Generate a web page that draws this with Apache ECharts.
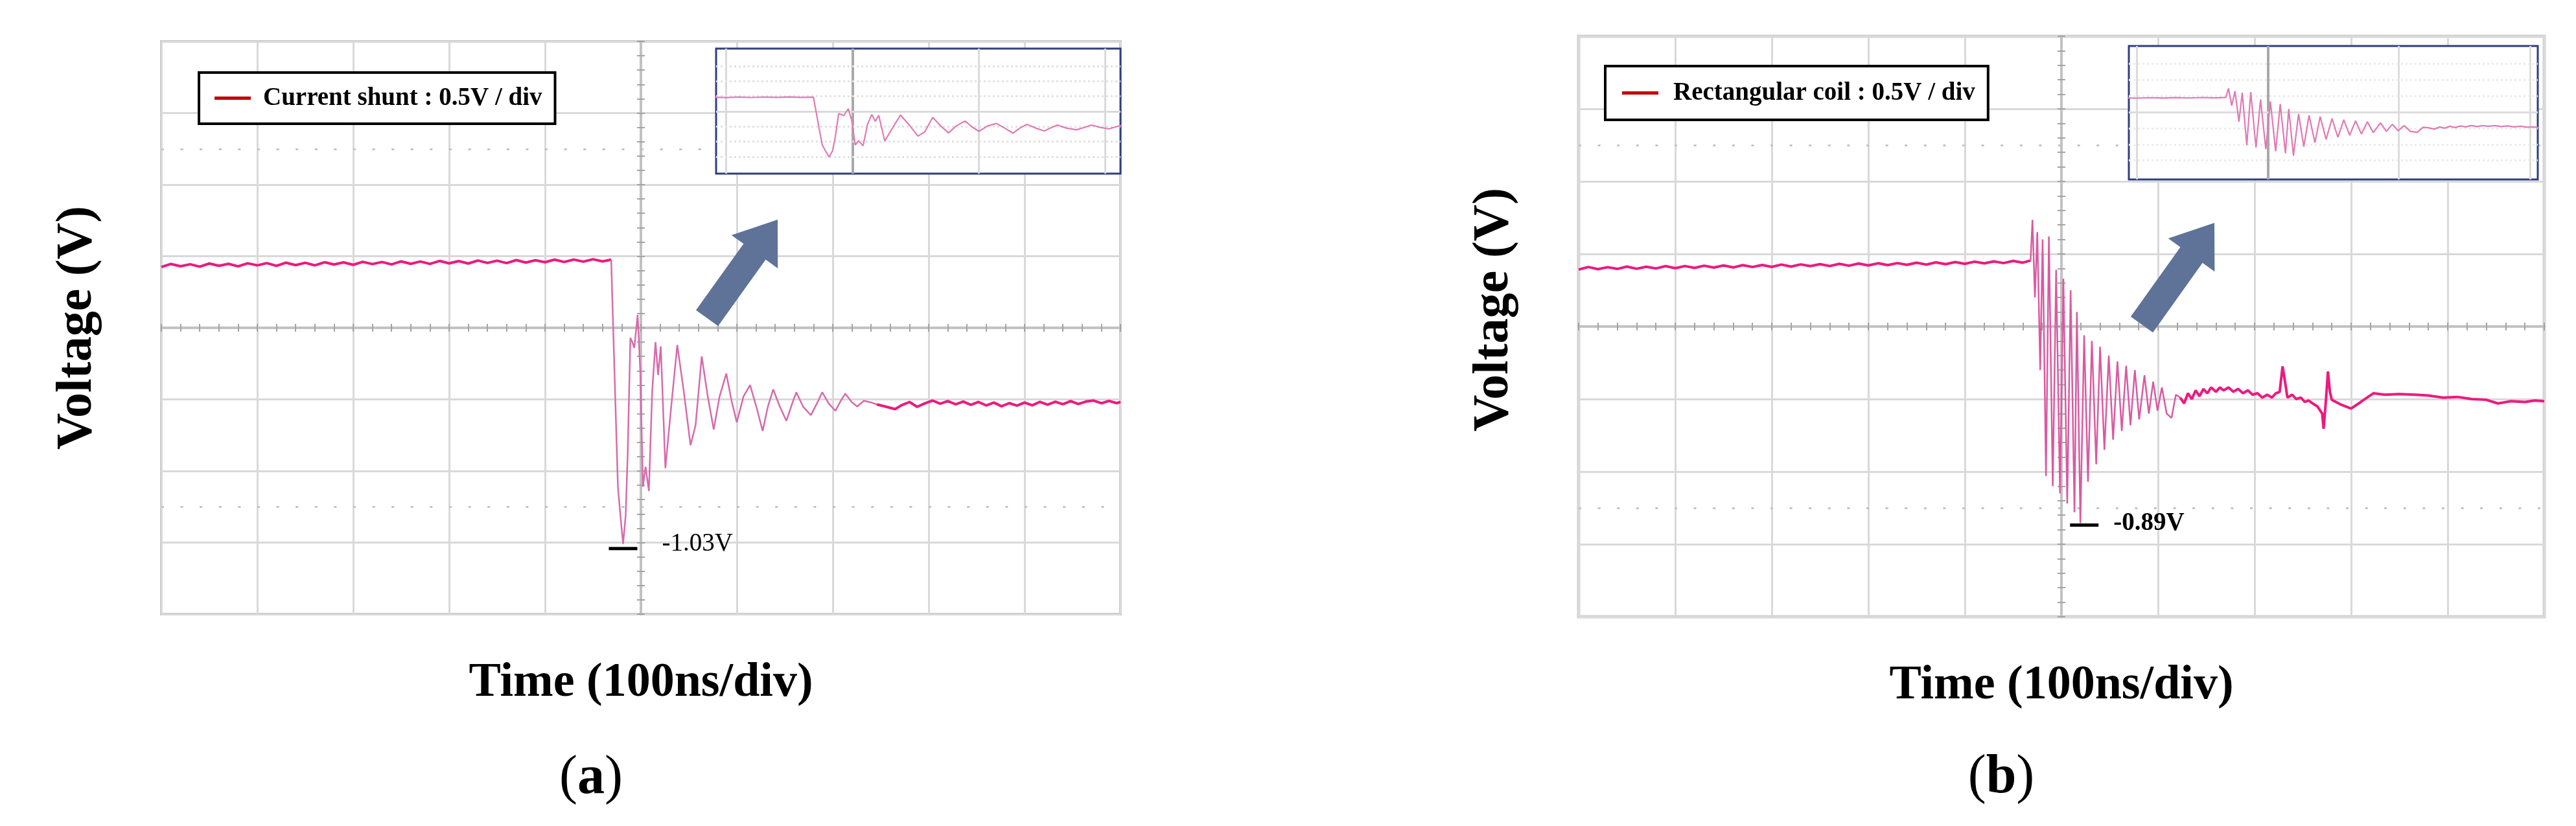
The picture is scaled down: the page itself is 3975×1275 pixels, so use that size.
<!DOCTYPE html>
<html><head><meta charset="utf-8">
<script src="https://cdn.jsdelivr.net/npm/echarts@6/dist/echarts.min.js"></script>
<style>html,body{margin:0;padding:0;background:#fff}#c{width:3975px;height:1275px}</style>
</head><body><div id="c"></div>
<script>
// ---------------- DATA (time in ns, voltage in V; scope at 0.5 V/div, 100 ns/div) ----------------
const seriesNames = ['Current shunt : 0.5V / div', 'Rectangular coil : 0.5V / div'];
const peakLabels = ['-1.03V', '-0.89V'];
const xTitle = 'Time (100ns/div)';
const yTitle = 'Voltage (V)';
const panelTags = ['a', 'b'];

const shuntPre = [[-500,0.425],[-490,0.446],[-480,0.430],[-470,0.444],[-460,0.427],[-450,0.449],[-440,0.433],[-430,0.447],[-420,0.429],[-410,0.451],[-400,0.436],[-390,0.452],[-380,0.433],[-370,0.455],[-360,0.438],[-350,0.454],[-340,0.436],[-330,0.458],[-320,0.442],[-310,0.457],[-300,0.440],[-290,0.461],[-280,0.445],[-270,0.460],[-260,0.443],[-250,0.464],[-240,0.447],[-230,0.463],[-220,0.446],[-210,0.467],[-200,0.450],[-190,0.466],[-180,0.449],[-170,0.470],[-160,0.453],[-150,0.469],[-140,0.452],[-130,0.473],[-120,0.456],[-110,0.472],[-100,0.458],[-90,0.476],[-80,0.460],[-70,0.477],[-60,0.462],[-50,0.479],[-40,0.464],[-31,0.476]];
const shuntRing = [[-31,0.476],[-27.6,-0.30],[-24,-1.11],[-21.4,-1.31],[-18.6,-1.51],[-15.9,-1.31],[-13.8,-0.88],[-11,-0.07],[-9,-0.10],[-6.9,-0.14],[-3.4,0.09],[-0.7,-0.30],[2.1,-1.11],[4.8,-0.97],[8.3,-1.14],[11.7,-0.45],[15.2,-0.10],[17.9,-0.33],[20.7,-0.13],[25.5,-0.98],[31,-0.59],[37.9,-0.12],[44.8,-0.45],[51.7,-0.82],[57,-0.68],[63.4,-0.20],[69.7,-0.48],[75.9,-0.71],[82,-0.48],[89,-0.32],[94.5,-0.51],[100,-0.66],[106.9,-0.48],[113.8,-0.40],[120.7,-0.56],[126.9,-0.72],[132.4,-0.55],[137.9,-0.43],[144.8,-0.55],[151.7,-0.65],[156.6,-0.55],[162,-0.45],[169,-0.55],[177.2,-0.61],[184.1,-0.52],[189,-0.45],[195.9,-0.53],[202.8,-0.58],[208.3,-0.51],[213.1,-0.46],[220,-0.52],[225.5,-0.55],[232.4,-0.51],[239.3,-0.52],[246,-0.535]];
const shuntTail = [[246,-0.535],[256,-0.552],[265,-0.568],[272,-0.540],[280,-0.518],[288,-0.552],[296,-0.528],[304,-0.508],[312,-0.530],[320,-0.512],[328,-0.534],[336,-0.515],[344,-0.538],[352,-0.518],[360,-0.542],[368,-0.522],[376,-0.548],[384,-0.526],[392,-0.544],[400,-0.522],[408,-0.541],[416,-0.517],[424,-0.537],[432,-0.516],[440,-0.533],[448,-0.512],[456,-0.532],[464,-0.515],[472,-0.508],[480,-0.527],[488,-0.511],[496,-0.526],[500,-0.518]];

const coilPre = [[-500,0.392],[-490,0.410],[-480,0.395],[-470,0.409],[-460,0.397],[-450,0.413],[-440,0.398],[-430,0.412],[-420,0.400],[-410,0.416],[-400,0.402],[-390,0.417],[-380,0.404],[-370,0.419],[-360,0.406],[-350,0.421],[-340,0.407],[-330,0.423],[-320,0.410],[-310,0.424],[-300,0.411],[-290,0.427],[-280,0.413],[-270,0.428],[-260,0.416],[-250,0.430],[-240,0.417],[-230,0.432],[-220,0.419],[-210,0.434],[-200,0.421],[-190,0.436],[-180,0.423],[-170,0.437],[-160,0.425],[-150,0.440],[-140,0.427],[-130,0.442],[-120,0.430],[-110,0.444],[-100,0.432],[-90,0.447],[-80,0.435],[-70,0.449],[-60,0.437],[-50,0.452],[-40,0.440],[-32,0.455]];
const coilRing = [[-32,0.455],[-30,0.735],[-27.5,0.20],[-25,0.65],[-22,-0.30],[-19.5,0.60],[-16,-1.03],[-13,0.62],[-9,-1.10],[-5.5,0.39],[-1.5,-1.15],[2,0.33],[6,-1.22],[9.5,0.25],[13.5,-1.28],[16,0.10],[19.6,-1.355],[23.5,-0.06],[27.5,-1.07],[31.5,-0.10],[36,-0.95],[40,-0.14],[44.5,-0.85],[49,-0.20],[53.5,-0.78],[58,-0.24],[62.5,-0.72],[67,-0.27],[71.5,-0.68],[76,-0.30],[80.5,-0.64],[86,-0.335],[90.5,-0.60],[95,-0.38],[99.5,-0.58],[104,-0.42],[109,-0.60],[114,-0.63],[118.5,-0.47],[123,-0.49]];
const coilTail = [[123,-0.49],[127,-0.53],[131,-0.46],[135,-0.50],[139,-0.44],[143,-0.48],[147,-0.43],[151,-0.46],[155,-0.42],[160,-0.45],[164,-0.42],[168,-0.44],[173,-0.42],[178,-0.45],[183,-0.43],[188,-0.46],[193,-0.44],[198,-0.47],[203,-0.46],[208,-0.49],[213,-0.47],[218,-0.49],[222,-0.46],[226,-0.45],[229,-0.275],[232,-0.40],[234,-0.49],[239,-0.47],[243,-0.50],[248,-0.49],[252,-0.52],[256,-0.51],[260,-0.53],[265,-0.55],[270,-0.60],[271.5,-0.705],[274,-0.50],[276,-0.31],[278,-0.45],[280,-0.505],[290,-0.54],[300,-0.565],[310,-0.52],[323,-0.46],[335,-0.47],[350,-0.465],[366,-0.47],[380,-0.475],[395,-0.49],[410,-0.485],[425,-0.50],[440,-0.505],[452,-0.53],[465,-0.515],[480,-0.52],[490,-0.51],[500,-0.515]];

// ---------------- LAYOUT / STYLE ----------------
const layout = [
  { main:{left:249, top:64, width:1480, height:884}, frame:'#c6c6c6', frameW:4,
    inset:{left:1105, top:75, width:624, height:193}, insetX:[-108,212], insetY:[-2.06,2.08],
    legend:{left:307, top:112, padding:[20,20,20,24], textPad:14},
    nameGapX:70, nameGapY:90, yNamePad:[0,0,0,0],
    mark:{offset:[0,7], distance:38, labelOffset:[0,-7], weight:'normal'},
    arrow:{tail:[1091,491], tip:[1200,339]}, tag:{x:912, y:1202},
    ringColor:'#d66bab', insetGridColor:'#dadada', insetDot:'#e2e2e2' },
  { main:{left:2436, top:56, width:1490, height:896}, frame:'#d2d2d2', frameW:5,
    inset:{left:3285, top:71, width:631, height:206}, insetX:[-106,206], insetY:[-2.09,2.05],
    legend:{left:2477, top:102, padding:[22,20,22,26], textPad:18},
    nameGapX:70, nameGapY:91, yNamePad:[0,0,0,52],
    mark:{offset:[6,3], distance:23, labelOffset:[0,-3], weight:'bold'},
    arrow:{tail:[3305,501], tip:[3417,344]}, tag:{x:3088, y:1201},
    ringColor:'#d95aa2', insetGridColor:'#dcdcdc', insetDot:'#ececec' }
];
const traceColor = '#ec1a7f';
const serif = 'Liberation Serif';

function arrowPoints(tail, tip, shaft, head, headLen) {
  const dx = tip[0]-tail[0], dy = tip[1]-tail[1];
  const len = Math.hypot(dx, dy), ux = dx/len, uy = dy/len, nx = -uy, ny = ux;
  const P = (a, b) => [tail[0]+a*ux+b*nx, tail[1]+a*uy+b*ny];
  const hb = len - headLen;
  return [P(0,-shaft), P(hb,-shaft), P(hb,-head), P(len,0), P(hb,head), P(hb,shaft), P(0,shaft)];
}

const panels = [
  {name:seriesNames[0], pre:shuntPre, ring:shuntRing, tail:shuntTail, peak:peakLabels[0], tag:panelTags[0]},
  {name:seriesNames[1], pre:coilPre, ring:coilRing, tail:coilTail, peak:peakLabels[1], tag:panelTags[1]}
];

const option = {animation:false, backgroundColor:'#fff', grid:[], xAxis:[], yAxis:[], series:[], legend:[], graphic:[]};
const tickStyle = {color:'#a4a4a4', width:2};
const centerLine = {color:'#c2c2c2', width:4};

panels.forEach((p, i) => {
  const L = layout[i];
  const gMain = i*2, gIn = i*2+1, xb = i*4, yb = i*4;
  option.grid.push({left:L.main.left, top:L.main.top, width:L.main.width, height:L.main.height,
    show:true, borderColor:L.frame, borderWidth:L.frameW, backgroundColor:'transparent', containLabel:false, outerBoundsMode:'none'});
  option.grid.push({left:L.inset.left, top:L.inset.top, width:L.inset.width, height:L.inset.height,
    show:true, backgroundColor:'#fff', borderColor:'#2f3f7c', borderWidth:3, z:10, containLabel:false, outerBoundsMode:'none'});

  option.xAxis.push({gridIndex:gMain, type:'value', min:-500, max:500, interval:100, position:'bottom',
    axisLine:{show:false, onZero:false}, axisTick:{show:false}, axisLabel:{show:false},
    splitLine:{show:true, lineStyle:{color:'#d9d9d9', width:3}},
    name:xTitle, nameLocation:'middle', nameGap:L.nameGapX,
    nameTextStyle:{fontFamily:serif, fontWeight:'bold', fontSize:74, color:'#000'}});
  ['bottom','top'].forEach(pos => option.xAxis.push({gridIndex:gMain, type:'value', min:-500, max:500, interval:100, position:pos,
    axisLine:{show:true, onZero:true, onZeroAxisIndex:yb, lineStyle:centerLine},
    axisTick:{show:true, length:6, lineStyle:tickStyle},
    minorTick:{show:true, splitNumber:5, length:6, lineStyle:tickStyle},
    axisLabel:{show:false}, splitLine:{show:false}, z:3}));
  option.xAxis.push({gridIndex:gIn, type:'value', min:L.insetX[0], max:L.insetX[1], show:false});

  option.yAxis.push({gridIndex:gMain, type:'value', min:-2, max:2, interval:0.5, position:'left',
    axisLine:{show:false, onZero:false}, axisTick:{show:false}, axisLabel:{show:false},
    splitLine:{show:true, lineStyle:{color:'#d9d9d9', width:3}},
    name:yTitle, nameLocation:'middle', nameRotate:90, nameGap:L.nameGapY,
    nameTextStyle:{fontFamily:serif, fontWeight:'bold', fontSize:78, color:'#000', padding:L.yNamePad}});
  ['left','right'].forEach(pos => option.yAxis.push({gridIndex:gMain, type:'value', min:-2, max:2, interval:0.5, position:pos,
    axisLine:{show:true, onZero:true, onZeroAxisIndex:xb, lineStyle:centerLine},
    axisTick:{show:true, length:6, lineStyle:tickStyle},
    minorTick:{show:true, splitNumber:5, length:6, lineStyle:tickStyle},
    axisLabel:{show:false}, splitLine:{show:false}, z:3}));
  option.yAxis.push({gridIndex:gIn, type:'value', min:L.insetY[0], max:L.insetY[1], show:false});

  option.series.push({name:'scope-grid-'+i, type:'line', xAxisIndex:xb, yAxisIndex:yb, data:[[0,0]], symbol:'none',
    lineStyle:{opacity:0}, silent:true, z:1,
    markLine:{silent:true, symbol:'none', z:1, label:{show:false},
      lineStyle:{type:[4,25.6], color:'#c4c4c4', width:3},
      data:[{yAxis:1.25},{yAxis:-1.25}]}});

  const thick = {color:traceColor, width:4};
  option.series.push({name:p.name, type:'line', xAxisIndex:xb, yAxisIndex:yb, data:p.pre, symbol:'none',
    lineStyle:thick, itemStyle:{color:traceColor}, z:5, silent:true});
  option.series.push({name:p.name, type:'line', xAxisIndex:xb, yAxisIndex:yb, data:p.ring, symbol:'none',
    lineStyle:{color:L.ringColor, width:2.5}, itemStyle:{color:traceColor}, z:5, silent:true,
    markPoint:{z:7, silent:true, symbol:'rect', symbolSize:[44,5], symbolOffset:L.mark.offset,
      itemStyle:{color:'#000'},
      label:{show:true, position:'right', distance:L.mark.distance, offset:L.mark.labelOffset, formatter:p.peak,
        color:'#000', fontFamily:serif, fontWeight:L.mark.weight, fontSize:39, textBorderWidth:0},
      data:[{type:'min', valueDim:'y'}]}});
  option.series.push({name:p.name, type:'line', xAxisIndex:xb, yAxisIndex:yb, data:p.tail, symbol:'none',
    lineStyle:thick, itemStyle:{color:traceColor}, z:5, silent:true});

  const ig = L.insetGridColor;
  option.series.push({name:'inset-grid-'+i, type:'line', xAxisIndex:xb+3, yAxisIndex:yb+3, data:[[0,0]], symbol:'none',
    lineStyle:{opacity:0}, silent:true, z:11,
    markLine:{silent:true, symbol:'none', z:11, label:{show:false},
      data:[
        {xAxis:-100, lineStyle:{color:ig, width:3, type:'solid'}},
        {xAxis:0, lineStyle:{color:'#a9a9a9', width:4, type:'solid'}},
        {xAxis:100, lineStyle:{color:ig, width:3, type:'solid'}},
        {xAxis:200, lineStyle:{color:ig, width:3, type:'solid'}},
        {yAxis:0, lineStyle:{color:ig, width:3, type:'solid'}},
        {yAxis:0.5, lineStyle:{color:L.insetDot, width:3, type:[3,4]}},
        {yAxis:1.0, lineStyle:{color:L.insetDot, width:3, type:[3,4]}},
        {yAxis:1.5, lineStyle:{color:L.insetDot, width:3, type:[3,4]}},
        {yAxis:-0.5, lineStyle:{color:L.insetDot, width:3, type:[3,4]}},
        {yAxis:-1.0, lineStyle:{color:L.insetDot, width:3, type:[3,4]}},
        {yAxis:-1.5, lineStyle:{color:L.insetDot, width:3, type:[3,4]}}
      ]}});
  option.series.push({name:p.name+' (zoom)', type:'line', xAxisIndex:xb+3, yAxisIndex:yb+3,
    data:p.pre.concat(p.ring, p.tail), symbol:'none', silent:true,
    lineStyle:{color:'#e07ab5', width:2.2}, z:12});

  option.legend.push({left:L.legend.left, top:L.legend.top, orient:'horizontal', padding:L.legend.padding,
    backgroundColor:'#fff', borderColor:'#000', borderWidth:4, borderRadius:0,
    itemWidth:56, itemHeight:5, icon:'rect', selectedMode:false, z:6,
    itemStyle:{color:'#c00000', borderWidth:0},
    data:[{name:p.name, icon:'rect', itemStyle:{color:'#c00000', borderWidth:0}}],
    textStyle:{fontFamily:serif, fontWeight:'bold', fontSize:39, color:'#000', padding:[0,0,0,L.legend.textPad]}});

  option.graphic.push({type:'polygon', silent:true, z:20,
    shape:{points:arrowPoints(L.arrow.tail, L.arrow.tip, 21, 44, 61)},
    style:{fill:'#5f7399'}});
  option.graphic.push({type:'text', silent:true, z:20, x:L.tag.x, y:L.tag.y,
    style:{text:'{p|(}{b|'+p.tag+'}{p|)}', align:'center', verticalAlign:'middle',
      rich:{p:{fontFamily:serif, fontSize:84, fontWeight:'normal', fill:'#000'},
            b:{fontFamily:serif, fontSize:84, fontWeight:'bold', fill:'#000'}}}});
});

const chart = echarts.init(document.getElementById('c'), null, {renderer:'canvas'});
chart.setOption(option);
</script>
</body></html>
